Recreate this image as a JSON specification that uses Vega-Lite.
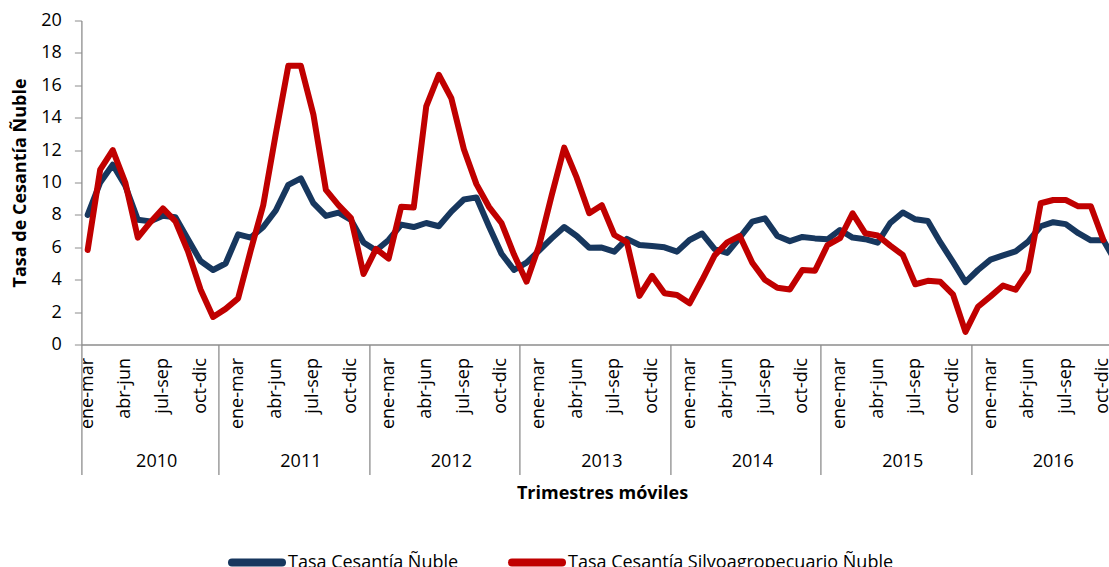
{
  "$schema": "https://vega.github.io/schema/vega-lite/v6.json",
  "width": 1027.6,
  "height": 324,
  "autosize": {"type": "none"},
  "padding": {"left": 81.4, "top": 20.5, "right": 0, "bottom": 222.5},
  "background": "white",
  "config": {
    "font": "Open Sans",
    "view": {"stroke": null},
    "axis": {
      "grid": false,
      "domainColor": "#8c8c8c",
      "tickColor": "#8c8c8c",
      "labelColor": "#000000",
      "titleColor": "#000000",
      "labelFont": "Open Sans",
      "titleFont": "Open Sans",
      "labelFontSize": 18,
      "titleFontSize": 18,
      "titleFontWeight": "bold"
    }
  },
  "data": {
    "values": [
      {"periodo": "2010 ene-mar", "Tasa Cesantía Ñuble": 8.0, "Tasa Cesantía Silvoagropecuario Ñuble": 5.83},
      {"periodo": "2010 feb-abr", "Tasa Cesantía Ñuble": 10.0, "Tasa Cesantía Silvoagropecuario Ñuble": 10.8},
      {"periodo": "2010 mar-may", "Tasa Cesantía Ñuble": 11.1, "Tasa Cesantía Silvoagropecuario Ñuble": 12.0},
      {"periodo": "2010 abr-jun", "Tasa Cesantía Ñuble": 9.8, "Tasa Cesantía Silvoagropecuario Ñuble": 10.0},
      {"periodo": "2010 may-jul", "Tasa Cesantía Ñuble": 7.7, "Tasa Cesantía Silvoagropecuario Ñuble": 6.6},
      {"periodo": "2010 jun-ago", "Tasa Cesantía Ñuble": 7.6, "Tasa Cesantía Silvoagropecuario Ñuble": 7.55},
      {"periodo": "2010 jul-sep", "Tasa Cesantía Ñuble": 7.95, "Tasa Cesantía Silvoagropecuario Ñuble": 8.4},
      {"periodo": "2010 ago-oct", "Tasa Cesantía Ñuble": 7.85, "Tasa Cesantía Silvoagropecuario Ñuble": 7.6},
      {"periodo": "2010 sep-nov", "Tasa Cesantía Ñuble": 6.5, "Tasa Cesantía Silvoagropecuario Ñuble": 5.75},
      {"periodo": "2010 oct-dic", "Tasa Cesantía Ñuble": 5.15, "Tasa Cesantía Silvoagropecuario Ñuble": 3.4},
      {"periodo": "2010 nov-ene", "Tasa Cesantía Ñuble": 4.6, "Tasa Cesantía Silvoagropecuario Ñuble": 1.7},
      {"periodo": "2011 dic-feb", "Tasa Cesantía Ñuble": 5.0, "Tasa Cesantía Silvoagropecuario Ñuble": 2.2},
      {"periodo": "2011 ene-mar", "Tasa Cesantía Ñuble": 6.8, "Tasa Cesantía Silvoagropecuario Ñuble": 2.85},
      {"periodo": "2011 feb-abr", "Tasa Cesantía Ñuble": 6.6, "Tasa Cesantía Silvoagropecuario Ñuble": 5.8},
      {"periodo": "2011 mar-may", "Tasa Cesantía Ñuble": 7.25, "Tasa Cesantía Silvoagropecuario Ñuble": 8.6},
      {"periodo": "2011 abr-jun", "Tasa Cesantía Ñuble": 8.27, "Tasa Cesantía Silvoagropecuario Ñuble": 13.0},
      {"periodo": "2011 may-jul", "Tasa Cesantía Ñuble": 9.85, "Tasa Cesantía Silvoagropecuario Ñuble": 17.2},
      {"periodo": "2011 jun-ago", "Tasa Cesantía Ñuble": 10.25, "Tasa Cesantía Silvoagropecuario Ñuble": 17.2},
      {"periodo": "2011 jul-sep", "Tasa Cesantía Ñuble": 8.72, "Tasa Cesantía Silvoagropecuario Ñuble": 14.2},
      {"periodo": "2011 ago-oct", "Tasa Cesantía Ñuble": 7.94, "Tasa Cesantía Silvoagropecuario Ñuble": 9.54},
      {"periodo": "2011 sep-nov", "Tasa Cesantía Ñuble": 8.14, "Tasa Cesantía Silvoagropecuario Ñuble": 8.6},
      {"periodo": "2011 oct-dic", "Tasa Cesantía Ñuble": 7.69, "Tasa Cesantía Silvoagropecuario Ñuble": 7.8},
      {"periodo": "2011 nov-ene", "Tasa Cesantía Ñuble": 6.3, "Tasa Cesantía Silvoagropecuario Ñuble": 4.35},
      {"periodo": "2012 dic-feb", "Tasa Cesantía Ñuble": 5.8, "Tasa Cesantía Silvoagropecuario Ñuble": 5.9},
      {"periodo": "2012 ene-mar", "Tasa Cesantía Ñuble": 6.45, "Tasa Cesantía Silvoagropecuario Ñuble": 5.3},
      {"periodo": "2012 feb-abr", "Tasa Cesantía Ñuble": 7.4, "Tasa Cesantía Silvoagropecuario Ñuble": 8.5},
      {"periodo": "2012 mar-may", "Tasa Cesantía Ñuble": 7.25, "Tasa Cesantía Silvoagropecuario Ñuble": 8.45},
      {"periodo": "2012 abr-jun", "Tasa Cesantía Ñuble": 7.5, "Tasa Cesantía Silvoagropecuario Ñuble": 14.7},
      {"periodo": "2012 may-jul", "Tasa Cesantía Ñuble": 7.3, "Tasa Cesantía Silvoagropecuario Ñuble": 16.65},
      {"periodo": "2012 jun-ago", "Tasa Cesantía Ñuble": 8.2, "Tasa Cesantía Silvoagropecuario Ñuble": 15.2},
      {"periodo": "2012 jul-sep", "Tasa Cesantía Ñuble": 8.95, "Tasa Cesantía Silvoagropecuario Ñuble": 12.05},
      {"periodo": "2012 ago-oct", "Tasa Cesantía Ñuble": 9.08, "Tasa Cesantía Silvoagropecuario Ñuble": 9.9},
      {"periodo": "2012 sep-nov", "Tasa Cesantía Ñuble": 7.3, "Tasa Cesantía Silvoagropecuario Ñuble": 8.5},
      {"periodo": "2012 oct-dic", "Tasa Cesantía Ñuble": 5.6, "Tasa Cesantía Silvoagropecuario Ñuble": 7.5},
      {"periodo": "2012 nov-ene", "Tasa Cesantía Ñuble": 4.6, "Tasa Cesantía Silvoagropecuario Ñuble": 5.55},
      {"periodo": "2013 dic-feb", "Tasa Cesantía Ñuble": 5.05, "Tasa Cesantía Silvoagropecuario Ñuble": 3.88},
      {"periodo": "2013 ene-mar", "Tasa Cesantía Ñuble": 5.8, "Tasa Cesantía Silvoagropecuario Ñuble": 6.1},
      {"periodo": "2013 feb-abr", "Tasa Cesantía Ñuble": 6.55, "Tasa Cesantía Silvoagropecuario Ñuble": 9.2},
      {"periodo": "2013 mar-may", "Tasa Cesantía Ñuble": 7.25, "Tasa Cesantía Silvoagropecuario Ñuble": 12.15},
      {"periodo": "2013 abr-jun", "Tasa Cesantía Ñuble": 6.7, "Tasa Cesantía Silvoagropecuario Ñuble": 10.3},
      {"periodo": "2013 may-jul", "Tasa Cesantía Ñuble": 5.97, "Tasa Cesantía Silvoagropecuario Ñuble": 8.1},
      {"periodo": "2013 jun-ago", "Tasa Cesantía Ñuble": 5.98, "Tasa Cesantía Silvoagropecuario Ñuble": 8.6},
      {"periodo": "2013 jul-sep", "Tasa Cesantía Ñuble": 5.73, "Tasa Cesantía Silvoagropecuario Ñuble": 6.76},
      {"periodo": "2013 ago-oct", "Tasa Cesantía Ñuble": 6.52, "Tasa Cesantía Silvoagropecuario Ñuble": 6.32},
      {"periodo": "2013 sep-nov", "Tasa Cesantía Ñuble": 6.14, "Tasa Cesantía Silvoagropecuario Ñuble": 3.0},
      {"periodo": "2013 oct-dic", "Tasa Cesantía Ñuble": 6.08, "Tasa Cesantía Silvoagropecuario Ñuble": 4.24},
      {"periodo": "2013 nov-ene", "Tasa Cesantía Ñuble": 6.0, "Tasa Cesantía Silvoagropecuario Ñuble": 3.16},
      {"periodo": "2014 dic-feb", "Tasa Cesantía Ñuble": 5.73, "Tasa Cesantía Silvoagropecuario Ñuble": 3.05},
      {"periodo": "2014 ene-mar", "Tasa Cesantía Ñuble": 6.45, "Tasa Cesantía Silvoagropecuario Ñuble": 2.54},
      {"periodo": "2014 feb-abr", "Tasa Cesantía Ñuble": 6.85, "Tasa Cesantía Silvoagropecuario Ñuble": 3.98},
      {"periodo": "2014 mar-may", "Tasa Cesantía Ñuble": 5.88, "Tasa Cesantía Silvoagropecuario Ñuble": 5.5},
      {"periodo": "2014 abr-jun", "Tasa Cesantía Ñuble": 5.65, "Tasa Cesantía Silvoagropecuario Ñuble": 6.3},
      {"periodo": "2014 may-jul", "Tasa Cesantía Ñuble": 6.6, "Tasa Cesantía Silvoagropecuario Ñuble": 6.7},
      {"periodo": "2014 jun-ago", "Tasa Cesantía Ñuble": 7.58, "Tasa Cesantía Silvoagropecuario Ñuble": 5.05},
      {"periodo": "2014 jul-sep", "Tasa Cesantía Ñuble": 7.79, "Tasa Cesantía Silvoagropecuario Ñuble": 4.0},
      {"periodo": "2014 ago-oct", "Tasa Cesantía Ñuble": 6.7, "Tasa Cesantía Silvoagropecuario Ñuble": 3.5},
      {"periodo": "2014 sep-nov", "Tasa Cesantía Ñuble": 6.38, "Tasa Cesantía Silvoagropecuario Ñuble": 3.4},
      {"periodo": "2014 oct-dic", "Tasa Cesantía Ñuble": 6.64, "Tasa Cesantía Silvoagropecuario Ñuble": 4.6},
      {"periodo": "2014 nov-ene", "Tasa Cesantía Ñuble": 6.55, "Tasa Cesantía Silvoagropecuario Ñuble": 4.55},
      {"periodo": "2015 dic-feb", "Tasa Cesantía Ñuble": 6.49, "Tasa Cesantía Silvoagropecuario Ñuble": 6.14},
      {"periodo": "2015 ene-mar", "Tasa Cesantía Ñuble": 7.07, "Tasa Cesantía Silvoagropecuario Ñuble": 6.56},
      {"periodo": "2015 feb-abr", "Tasa Cesantía Ñuble": 6.6, "Tasa Cesantía Silvoagropecuario Ñuble": 8.1},
      {"periodo": "2015 mar-may", "Tasa Cesantía Ñuble": 6.5, "Tasa Cesantía Silvoagropecuario Ñuble": 6.87},
      {"periodo": "2015 abr-jun", "Tasa Cesantía Ñuble": 6.29, "Tasa Cesantía Silvoagropecuario Ñuble": 6.73},
      {"periodo": "2015 may-jul", "Tasa Cesantía Ñuble": 7.5, "Tasa Cesantía Silvoagropecuario Ñuble": 6.1},
      {"periodo": "2015 jun-ago", "Tasa Cesantía Ñuble": 8.15, "Tasa Cesantía Silvoagropecuario Ñuble": 5.53},
      {"periodo": "2015 jul-sep", "Tasa Cesantía Ñuble": 7.73, "Tasa Cesantía Silvoagropecuario Ñuble": 3.72},
      {"periodo": "2015 ago-oct", "Tasa Cesantía Ñuble": 7.62, "Tasa Cesantía Silvoagropecuario Ñuble": 3.93},
      {"periodo": "2015 sep-nov", "Tasa Cesantía Ñuble": 6.3, "Tasa Cesantía Silvoagropecuario Ñuble": 3.87},
      {"periodo": "2015 oct-dic", "Tasa Cesantía Ñuble": 5.1, "Tasa Cesantía Silvoagropecuario Ñuble": 3.1},
      {"periodo": "2015 nov-ene", "Tasa Cesantía Ñuble": 3.85, "Tasa Cesantía Silvoagropecuario Ñuble": 0.78},
      {"periodo": "2016 dic-feb", "Tasa Cesantía Ñuble": 4.6, "Tasa Cesantía Silvoagropecuario Ñuble": 2.33},
      {"periodo": "2016 ene-mar", "Tasa Cesantía Ñuble": 5.24, "Tasa Cesantía Silvoagropecuario Ñuble": 2.97},
      {"periodo": "2016 feb-abr", "Tasa Cesantía Ñuble": 5.5, "Tasa Cesantía Silvoagropecuario Ñuble": 3.64},
      {"periodo": "2016 mar-may", "Tasa Cesantía Ñuble": 5.75, "Tasa Cesantía Silvoagropecuario Ñuble": 3.38},
      {"periodo": "2016 abr-jun", "Tasa Cesantía Ñuble": 6.35, "Tasa Cesantía Silvoagropecuario Ñuble": 4.52},
      {"periodo": "2016 may-jul", "Tasa Cesantía Ñuble": 7.3, "Tasa Cesantía Silvoagropecuario Ñuble": 8.72},
      {"periodo": "2016 jun-ago", "Tasa Cesantía Ñuble": 7.55, "Tasa Cesantía Silvoagropecuario Ñuble": 8.92},
      {"periodo": "2016 jul-sep", "Tasa Cesantía Ñuble": 7.43, "Tasa Cesantía Silvoagropecuario Ñuble": 8.92},
      {"periodo": "2016 ago-oct", "Tasa Cesantía Ñuble": 6.87, "Tasa Cesantía Silvoagropecuario Ñuble": 8.53},
      {"periodo": "2016 sep-nov", "Tasa Cesantía Ñuble": 6.43, "Tasa Cesantía Silvoagropecuario Ñuble": 8.53},
      {"periodo": "2016 oct-dic", "Tasa Cesantía Ñuble": 6.43, "Tasa Cesantía Silvoagropecuario Ñuble": 6.45},
      {"periodo": "2016 nov-ene", "Tasa Cesantía Ñuble": 5.1, "Tasa Cesantía Silvoagropecuario Ñuble": null}
    ]
  },
  "transform": [
    {"fold": ["Tasa Cesantía Ñuble", "Tasa Cesantía Silvoagropecuario Ñuble"], "as": ["serie", "tasa"]}
  ],
  "encoding": {
    "y": {
      "field": "tasa",
      "type": "quantitative",
      "scale": {"domain": [0, 20], "nice": false},
      "axis": {
        "title": "Tasa de Cesantía Ñuble",
        "values": [0, 2, 4, 6, 8, 10, 12, 14, 16, 18, 20],
        "tickCount": 40,
        "format": "d",
        "labelOverlap": false,
        "tickSize": 7,
        "domainWidth": 1.3,
        "labelPadding": 13,
        "titleAngle": 270,
        "titleBaseline": "middle",
        "titleX": -61.4,
        "titleY": 162
      }
    }
  },
  "layer": [
    {
      "mark": {"type": "line", "strokeWidth": 6, "strokeJoin": "round", "strokeCap": "round"},
      "encoding": {
        "x": {
          "field": "periodo",
          "type": "ordinal",
          "sort": null,
          "bandPosition": 0.5,
          "scale": {"type": "band", "paddingInner": 0, "paddingOuter": 0, "range": [0, 1040.8]},
          "axis": {
            "orient": "bottom",
            "title": null,
            "domain": true,
            "domainWidth": 1.3,
            "ticks": false,
            "tickSize": 0,
            "labelAngle": 270,
            "labelAlign": "right",
            "labelBaseline": "middle",
            "labelPadding": 13,
            "labelOverlap": false,
            "labelExpr": "indexof(['ene-mar','abr-jun','jul-sep','oct-dic'], slice(datum.value, 5)) >= 0 ? slice(datum.value, 5) : ''"
          }
        },
        "color": {
          "field": "serie",
          "type": "nominal",
          "scale": {
            "domain": ["Tasa Cesantía Ñuble", "Tasa Cesantía Silvoagropecuario Ñuble"],
            "range": ["#17375E", "#C00000"]
          },
          "legend": {
            "title": null,
            "orient": "none",
            "direction": "horizontal",
            "legendX": 146.6,
            "legendY": 513,
            "padding": 0,
            "symbolType": "stroke",
            "symbolSize": 2500,
            "symbolStrokeWidth": 8,
            "labelFontSize": 18,
            "labelFont": "Open Sans",
            "labelColor": "#000000",
            "labelOffset": 2,
            "columnPadding": 37,
            "labelLimit": 600,
            "encode": {"symbols": {"update": {"strokeCap": {"value": "round"}}}}
          }
        }
      }
    },
    {
      "mark": {"type": "point", "opacity": 0},
      "encoding": {
        "x": {
          "field": "periodo",
          "type": "ordinal",
          "sort": null,
          "bandPosition": 0.5,
          "scale": {"type": "band", "paddingInner": 0, "paddingOuter": 0, "range": [0, 1040.8]},
          "axis": {
            "orient": "bottom",
            "values": ["2010 ene-mar", "2011 dic-feb", "2012 dic-feb", "2013 dic-feb", "2014 dic-feb", "2015 dic-feb", "2016 dic-feb"],
            "bandPosition": 0,
            "domain": false,
            "ticks": true,
            "tickSize": 130,
            "tickWidth": 1.3,
            "labelAngle": 0,
            "labelAlign": "center",
            "labelBaseline": "middle",
            "labelPadding": -12.7,
            "labelOverlap": false,
            "labelOffset": {"condition": {"test": "datum.value == '2010 ene-mar'", "value": 69}, "value": 75.3},
            "labelExpr": "slice(datum.value, 0, 4)",
            "title": "Trimestres móviles",
            "titleX": 520.6,
            "titleY": 148.6,
            "titleAlign": "center",
            "titleBaseline": "middle"
          }
        }
      }
    }
  ],
  "resolve": {"axis": {"x": "independent"}}
}
